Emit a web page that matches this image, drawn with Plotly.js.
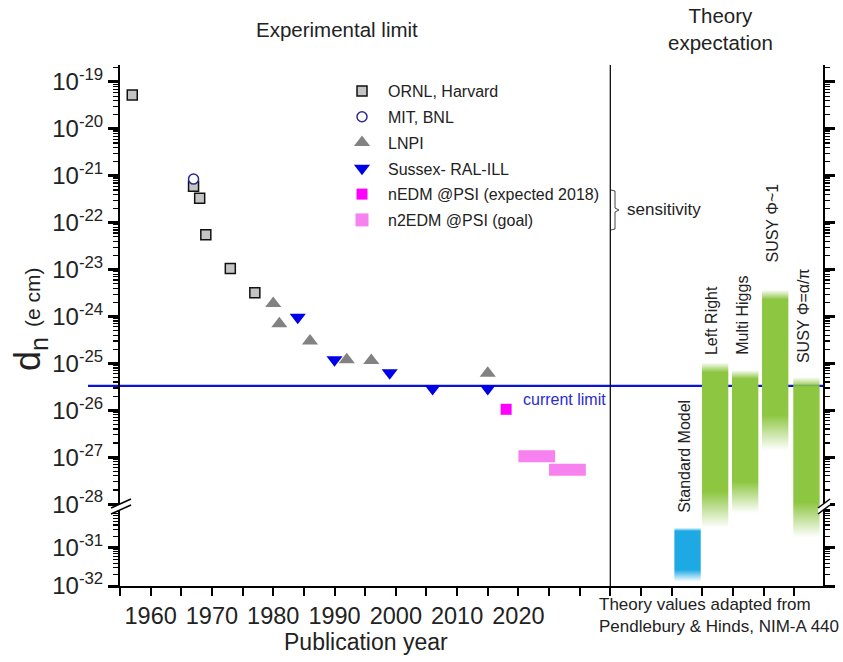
<!DOCTYPE html>
<html><head><meta charset="utf-8">
<script src="https://cdn.plot.ly/plotly-3.0.1.min.js"></script>
<style>html,body{margin:0;padding:0;background:#fff}#chart{width:843px;height:662px}</style>
</head><body><div id="chart"></div>
<script>
// ---------------- data ----------------
const ornlYear   = [1957, 1967, 1968, 1969, 1973, 1977];
const ornlLimit  = [5.3e-20, 6e-22, 3.3e-22, 5.5e-23, 1.05e-23, 3.2e-24];
const mitYear    = [1967];
const mitLimit   = [8.5e-22];
const lnpiYear   = [1980, 1981, 1986, 1992, 1996, 2015];
const lnpiLimit  = [1.9e-24, 7e-25, 3e-25, 1.2e-25, 1.15e-25, 6.2e-26];
const sussexYear = [1984, 1990, 1999, 2006, 2015];
const sussexLimit= [9.6e-25, 1.2e-25, 6.3e-26, 2.9e-26, 2.9e-26];
const nedmYear   = [2018];
const nedmLimit  = [1.05e-26];
const n2edmStart = [2020, 2025];
const n2edmEnd   = [2026, 2031];
const n2edmLimit = [1.05e-27, 5.4e-28];
const currentLimit = 3.3e-26;

const theoryModels = ['Standard Model', 'Left Right', 'Multi Higgs', 'SUSY \u03A6~1', 'SUSY \u03A6=\u03B1/\u03C0'];
const theoryX      = [2047.6, 2052.1, 2057.0, 2061.9, 2067.0];
const theoryUpper  = [3.4e-31, 1.05e-25, 7.2e-26, 3.7e-24, 5.1e-26];
const theoryLower  = [1.3e-32, 3.4e-31, 8.3e-31, 1.4e-27, 1.9e-31];

const xTickYears  = [1955,1960,1965,1970,1975,1980,1985,1990,1995,2000,2005,2010,2015,2020,2025,2030,2035,2040,2045,2050,2055,2060,2065,2070];
const xTickLabels = ['','1960','','1970','','1980','','1990','','2000','','2010','','2020','','','','','','','','','',''];
const yTickTop    = [1e-19,1e-20,1e-21,1e-22,1e-23,1e-24,1e-25,1e-26,1e-27,1e-28];
const yTickTopTxt = ['-19','-20','-21','-22','-23','-24','-25','-26','-27','-28'];
const yTickBot    = [1e-31,1e-32];
const yTickBotTxt = ['-31','-32'];

// ---------------- styles / layout constants ----------------
const FONT = 'Liberation Sans, Arial, sans-serif';
const TOP_RANGE = [-28.04, -18.638];
const BOT_RANGE = [-32, -29.895];
const SPLIT = 0.1536;
const BAR_W = 4.3;
const theoryColor = ['29,169,227', '141,198,65', '141,198,65', '141,198,65', '141,198,65'];
const topFade = 0.06, botFade = 0.22;
const labelShift = [13, 5, 13, 25, 12];

const L = 120, R = 20, T = 65, B = 76, W = 843, H = 662;
const PW = W - L - R, PH = H - T - B;
const px = p => (p - L) / PW;
const py = p => (H - B - p) / PH;

// continuous display coordinate across the axis break (used for fade styling only)
const kScale = (SPLIT / (BOT_RANGE[1] - BOT_RANGE[0])) / ((1 - SPLIT) / (TOP_RANGE[1] - TOP_RANGE[0]));
function disp(l) { return l >= TOP_RANGE[0] ? l : TOP_RANGE[0] - (BOT_RANGE[1] - l) * kScale; }

const traces = [];
// theory bands
for (let i = 0; i < theoryModels.length; i++) {
  const lu = Math.log10(theoryUpper[i]), ll = Math.log10(theoryLower[i]);
  const du = disp(lu), dl = disp(ll), len = du - dl;
  const keys = [[dl, 0], [dl + botFade * len, 1], [du - topFade * len, 1], [du, 0]];
  const alphaAt = d => {
    for (let k = 0; k < keys.length - 1; k++) {
      const [d0, a0] = keys[k], [d1, a1] = keys[k + 1];
      if (d >= d0 && d <= d1) return d1 === d0 ? a1 : a0 + (a1 - a0) * (d - d0) / (d1 - d0);
    }
    return 0;
  };
  [['y', TOP_RANGE], ['y2', BOT_RANGE]].forEach(([ax, rg]) => {
    const a = Math.max(ll, rg[0]), b = Math.min(lu, rg[1]);
    if (a >= b) return;
    const da = disp(a), db = disp(b);
    const pts = [da];
    keys.forEach(([d]) => { if (d > da && d < db) pts.push(d); });
    pts.push(db);
    const cs = pts.map(d => [(d - da) / (db - da), 'rgba(' + theoryColor[i] + ',' + alphaAt(d).toFixed(3) + ')']);
    const x0 = theoryX[i] - BAR_W / 2, x1 = theoryX[i] + BAR_W / 2;
    traces.push({
      type: 'scatter', mode: 'none', fill: 'toself', xaxis: 'x', yaxis: ax,
      x: [x0, x1, x1, x0, x0], y: [10 ** a, 10 ** a, 10 ** b, 10 ** b, 10 ** a],
      fillcolor: 'rgb(' + theoryColor[i] + ')',
      fillgradient: { type: 'vertical', colorscale: cs },
      showlegend: false, hoverinfo: 'skip'
    });
  });
}

// n2EDM goal segments
const n2x = [], n2y = [];
for (let i = 0; i < n2edmStart.length; i++) { n2x.push(n2edmStart[i], n2edmEnd[i], null); n2y.push(n2edmLimit[i], n2edmLimit[i], null); }
traces.push({ type: 'scatter', mode: 'lines', x: n2x, y: n2y, xaxis: 'x', yaxis: 'y',
  line: { color: '#f781ee', width: 12 }, showlegend: false, hoverinfo: 'skip' });

traces.push({ type: 'scatter', mode: 'markers', name: 'ORNL, Harvard', legendgroup: 'g1', x: ornlYear, y: ornlLimit, xaxis: 'x', yaxis: 'y',
  marker: { symbol: 'square', size: 10, color: '#c4c4c4', line: { color: '#111', width: 1.5 } } });
traces.push({ type: 'scatter', mode: 'markers', name: 'MIT, BNL', legendgroup: 'g2', x: mitYear, y: mitLimit, xaxis: 'x', yaxis: 'y',
  marker: { symbol: 'circle', size: 10, color: 'white', line: { color: '#2b2b8f', width: 1.5 } } });
traces.push({ type: 'scatter', mode: 'markers', name: 'LNPI', legendgroup: 'g3', x: lnpiYear, y: lnpiLimit, xaxis: 'x', yaxis: 'y',
  marker: { symbol: 'triangle-up', size: 14, color: '#828282' } });
traces.push({ type: 'scatter', mode: 'markers', name: 'Sussex- RAL-ILL', legendgroup: 'g4', x: sussexYear, y: sussexLimit, xaxis: 'x', yaxis: 'y',
  marker: { symbol: 'triangle-down', size: 14, color: '#0000e8' } });
traces.push({ type: 'scatter', mode: 'markers', name: 'nEDM @PSI (expected 2018)', legendgroup: 'g5', x: nedmYear, y: nedmLimit, xaxis: 'x', yaxis: 'y',
  marker: { symbol: 'square', size: 11, color: '#ff00ff' } });
traces.push({ type: 'scatter', mode: 'markers', name: 'n2EDM @PSI (goal)', legendgroup: 'g6', x: [null], y: [null], xaxis: 'x', yaxis: 'y',
  marker: { symbol: 'square', size: 13, color: '#f781ee' } });

// ---------------- annotations ----------------
const annotations = [];
theoryModels.forEach((m, i) => {
  annotations.push({ text: m, x: theoryX[i], y: Math.log10(theoryUpper[i]), xref: 'x',
    yref: theoryUpper[i] < 10 ** TOP_RANGE[0] ? 'y2' : 'y', textangle: -90, showarrow: false,
    xanchor: 'center', yanchor: 'bottom', yshift: labelShift[i], xshift: -3,
    font: { size: 16, color: '#222', family: FONT } });
});
annotations.push({ text: 'current limit', x: 2035, y: Math.log10(currentLimit), xref: 'x', yref: 'y',
  xanchor: 'right', yanchor: 'top', xshift: -2, yshift: -3, showarrow: false, font: { size: 16, color: '#2a2ad6', family: FONT } });
annotations.push({ text: 'Experimental limit', xref: 'paper', yref: 'paper', x: px(337), y: py(30), showarrow: false,
  xanchor: 'center', yanchor: 'middle', font: { size: 20.5, color: '#222', family: FONT } });
annotations.push({ text: 'Theory<br>expectation', xref: 'paper', yref: 'paper', x: px(720), y: py(29), showarrow: false,
  xanchor: 'center', yanchor: 'middle', font: { size: 20.5, color: '#222', family: FONT } });
annotations.push({ text: 'Theory values adapted from<br>Pendlebury & Hinds, NIM-A 440', xref: 'paper', yref: 'paper',
  x: px(597), y: py(615), showarrow: false, xanchor: 'left', yanchor: 'middle', align: 'left',
  font: { size: 17, color: '#222', family: FONT } });
annotations.push({ text: 'sensitivity', xref: 'paper', yref: 'paper', x: px(625), y: py(210), showarrow: false,
  xanchor: 'left', yanchor: 'middle', font: { size: 17, color: '#222', family: FONT } });
annotations.push({ text: 'Publication year', xref: 'paper', yref: 'paper', x: px(366), y: py(642), showarrow: false,
  xanchor: 'center', yanchor: 'middle', font: { size: 23, color: '#222', family: FONT } });
annotations.push({ text: 'd<sub>n</sub> <span style="font-size:21px">(e cm)</span>', xref: 'paper', yref: 'paper',
  x: px(30), y: py(319), showarrow: false, textangle: -90, xanchor: 'center', yanchor: 'middle',
  font: { size: 36, color: '#222', family: FONT } });

// ---------------- shapes ----------------
const shapes = [
  { type: 'line', xref: 'paper', yref: 'y', x0: px(88), x1: 1, y0: currentLimit, y1: currentLimit,
    line: { color: '#0a14d8', width: 2.3 }, layer: 'below' },
  { type: 'line', xref: 'x', yref: 'paper', x0: 2035, x1: 2035, y0: 0, y1: 1, line: { color: '#111', width: 1.3 } },
  { type: 'path', xref: 'paper', yref: 'paper',
    path: `M ${px(611)} ${py(190)} L ${px(615)} ${py(191)} L ${px(615)} ${py(208)} L ${px(619)} ${py(210)} L ${px(615)} ${py(212)} L ${px(615)} ${py(229)} L ${px(611)} ${py(230)}`,
    line: { color: '#444', width: 1 } }
];
function breakMark(cx, half) {
  shapes.push({ type: 'path', xref: 'paper', yref: 'paper',
    path: `M ${px(cx - half)} ${py(508)} L ${px(cx + half)} ${py(499)} L ${px(cx + half)} ${py(505)} L ${px(cx - half)} ${py(514)} Z`,
    fillcolor: 'white', line: { width: 0 } });
  shapes.push({ type: 'line', xref: 'paper', yref: 'paper', x0: px(cx - half), y0: py(508), x1: px(cx + half), y1: py(499), line: { color: 'black', width: 1.5 } });
  shapes.push({ type: 'line', xref: 'paper', yref: 'paper', x0: px(cx - half), y0: py(514), x1: px(cx + half), y1: py(505), line: { color: 'black', width: 1.5 } });
}
breakMark(121, 10);
breakMark(824, 6);

// ---------------- layout ----------------
const yCommon = {
  type: 'log', anchor: 'x', showline: true, linewidth: 2, linecolor: 'black', mirror: 'allticks',
  ticks: 'outside', ticklen: 10, tickwidth: 3, tickcolor: 'black', showgrid: false, zeroline: false,
  tickfont: { size: 24, color: '#222', family: FONT },
  minor: { dtick: 'D1', ticks: 'outside', ticklen: 5, tickwidth: 1.2, tickcolor: 'black', showgrid: false }
};
const layout = {
  width: W, height: H, margin: { l: L, r: R, t: T, b: B },
  paper_bgcolor: 'white', plot_bgcolor: 'rgba(0,0,0,0)',
  font: { family: FONT, color: '#222' },
  showlegend: true,
  legend: { x: px(336), y: py(74), xanchor: 'left', yanchor: 'top', bgcolor: 'rgba(0,0,0,0)',
    font: { size: 16, color: '#222', family: FONT }, traceorder: 'grouped', tracegroupgap: 2, itemwidth: 42 },
  xaxis: { range: [1955, 2069.7], anchor: 'y2', showline: true, linewidth: 2, linecolor: 'black',
    ticks: 'outside', ticklen: 8, tickwidth: 2, tickcolor: 'black', tickmode: 'array',
    tickvals: xTickYears, ticktext: xTickLabels, tickfont: { size: 23.5, color: '#222', family: FONT },
    showgrid: false, zeroline: false },
  xaxis2: { range: [1955, 2069.7], overlaying: 'x', side: 'top', anchor: 'y', showline: true, linewidth: 2,
    linecolor: 'black', ticks: 'outside', ticklen: 8, tickwidth: 2, tickcolor: 'black', tickmode: 'array',
    tickvals: xTickYears, showticklabels: false, showgrid: false, zeroline: false },
  yaxis: Object.assign({}, yCommon, { domain: [SPLIT, 1], range: TOP_RANGE, tickmode: 'array',
    tickvals: yTickTop, ticktext: yTickTopTxt.map(t => '10<sup>' + t + '</sup>') }),
  yaxis2: Object.assign({}, yCommon, { domain: [0, SPLIT], range: BOT_RANGE, tickmode: 'array',
    tickvals: yTickBot, ticktext: yTickBotTxt.map(t => '10<sup>' + t + '</sup>') }),
  annotations: annotations,
  shapes: shapes
};
Plotly.newPlot('chart', traces, layout, { displayModeBar: false, staticPlot: true });
</script></body></html>
